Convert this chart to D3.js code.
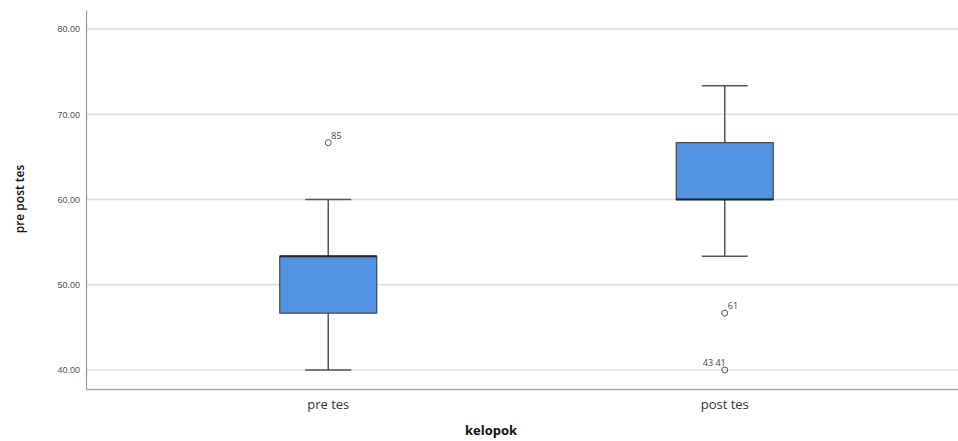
<!DOCTYPE html>
<html>
<head>
<meta charset="utf-8">
<script src="https://cdn.jsdelivr.net/npm/d3@7"></script>
<style>
  body { margin: 0; background: #fff; }
  svg { font-family: "Open Sans", sans-serif; }
</style>
</head>
<body>
<div class="box"></div>
<script>
// data
const groups = ["pre tes", "post tes"];
const mins = [40.00, 53.33];
const q1s = [46.67, 60.00];
const medians = [53.33, 60.00];
const q3s = [53.33, 66.67];
const maxs = [60.00, 73.33];
const outlierGroup = ["pre tes", "post tes", "post tes"];
const outlierValue = [66.67, 46.67, 40.00];
const outlierLabel = ["85", "61", "43  41"];
const yTicks = [40, 50, 60, 70, 80];

const w = 958;
const h = 441;

const svg = d3.select(".box")
              .append("svg")
              .attr("width", w)
              .attr("height", h);

const yScale = d3.scaleLinear()
                 .domain([37.77, 82.23])
                 .range([389, 10]);

const xScale = d3.scalePoint()
                 .domain(groups)
                 .range([130, 923])
                 .padding(0.5);

// gridlines
svg.append("g")
   .selectAll("line")
   .data(yTicks)
   .enter()
   .append("line")
   .attr("x1", 87)
   .attr("x2", w)
   .attr("y1", d => yScale(d))
   .attr("y2", d => yScale(d))
   .style("stroke", "#dedede")
   .style("stroke-width", 1.5);

// y axis
const yAxis = d3.axisLeft(yScale)
                .tickValues(yTicks)
                .tickSize(0)
                .tickPadding(6)
                .tickFormat(d3.format(".2f"));

const yg = svg.append("g")
              .attr("transform", "translate(86,0)")
              .call(yAxis);
yg.select(".domain").style("stroke", "#999").style("stroke-width", 1.2);
yg.selectAll("text")
  .style("font-size", "9px")
  .style("fill", "#555");

// x axis line
svg.append("line")
   .attr("x1", 86)
   .attr("x2", w)
   .attr("y1", 389.5)
   .attr("y2", 389.5)
   .style("stroke", "#aaa")
   .style("stroke-width", 1.5);

// x category labels
svg.append("g")
   .selectAll("text")
   .data(groups)
   .enter()
   .append("text")
   .attr("x", d => xScale(d))
   .attr("y", 409)
   .attr("text-anchor", "middle")
   .style("font-size", "13px")
   .style("fill", "#333")
   .text(d => d);

// axis titles
svg.append("text")
   .attr("x", 491)
   .attr("y", 435)
   .attr("text-anchor", "middle")
   .style("font-size", "13px")
   .style("font-weight", "bold")
   .style("fill", "#111")
   .text("kelopok");

svg.append("text")
   .attr("transform", "rotate(-90)")
   .attr("x", -199)
   .attr("y", 24)
   .attr("text-anchor", "middle")
   .style("font-size", "12px")
   .style("font-weight", "600")
   .style("fill", "#111")
   .text("pre post tes");

// boxes
const boxW = 97;
const capW = 46;
const boxes = svg.append("g");

groups.forEach(function(g, i) {
    const cx = xScale(g);
    // whisker stem
    boxes.append("line")
         .attr("x1", cx).attr("x2", cx)
         .attr("y1", yScale(mins[i])).attr("y2", yScale(maxs[i]))
         .style("stroke", "#555").style("stroke-width", 1.5);
    // caps
    [mins[i], maxs[i]].forEach(function(v) {
        boxes.append("line")
             .attr("x1", cx - capW / 2).attr("x2", cx + capW / 2)
             .attr("y1", yScale(v)).attr("y2", yScale(v))
             .style("stroke", "#555").style("stroke-width", 1.5);
    });
    // box
    boxes.append("rect")
         .attr("x", cx - boxW / 2)
         .attr("y", yScale(q3s[i]))
         .attr("width", boxW)
         .attr("height", yScale(q1s[i]) - yScale(q3s[i]))
         .style("fill", "#5294e2")
         .style("stroke", "#444")
         .style("stroke-width", 1.2);
    // median
    boxes.append("line")
         .attr("x1", cx - boxW / 2).attr("x2", cx + boxW / 2)
         .attr("y1", yScale(medians[i])).attr("y2", yScale(medians[i]))
         .style("stroke", "#222").style("stroke-width", 2);
});

// outliers
const outliers = svg.append("g");
outlierValue.forEach(function(v, i) {
    const cx = xScale(outlierGroup[i]);
    outliers.append("circle")
            .attr("cx", cx)
            .attr("cy", yScale(v))
            .attr("r", 3)
            .style("fill", "none")
            .style("stroke", "#555")
            .style("stroke-width", 1);
    outliers.append("text")
            .attr("x", cx + (outlierLabel[i].length > 2 ? -22 : 3))
            .attr("y", yScale(v) - 4)
            .style("font-size", "9px")
            .style("fill", "#444")
            .text(outlierLabel[i]);
});
</script>
</body>
</html>
